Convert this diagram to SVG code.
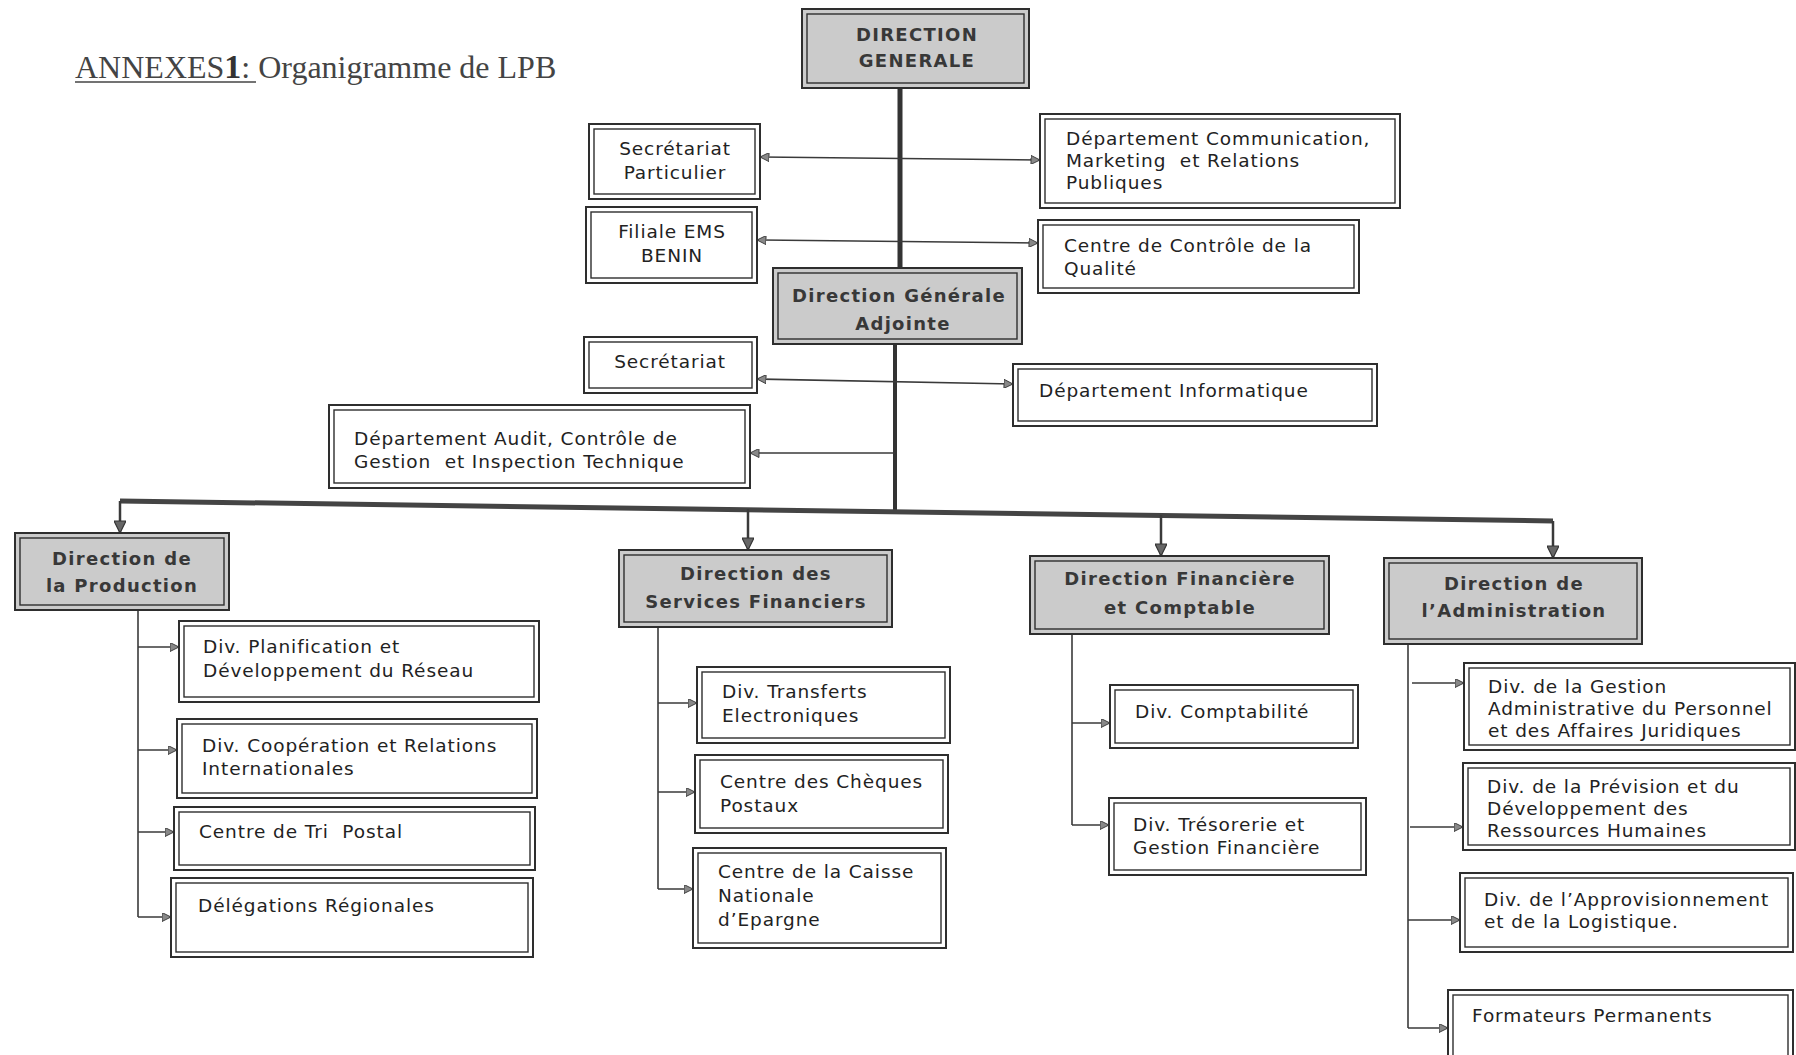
<svg xmlns="http://www.w3.org/2000/svg" width="1796" height="1055" viewBox="0 0 1796 1055">
<style>
.bg{fill:#ffffff}
.o{fill:#ffffff;stroke:#2e2e2e;stroke-width:2}
.i{fill:none;stroke:#2e2e2e;stroke-width:1.4}
.s{fill:#cbcbcb;stroke:#2e2e2e;stroke-width:2}
.t{font-family:"DejaVu Sans","Noto Sans",sans-serif;font-size:18.5px;fill:#222;letter-spacing:0.9px}
.c{text-anchor:middle}
.h{font-family:"DejaVu Sans","Noto Sans",sans-serif;font-weight:bold;font-size:18px;fill:#383838;letter-spacing:1.3px;text-anchor:middle}
.ln{fill:none;stroke:#3a3a3a;stroke-width:1.6}
.thick{fill:none;stroke:#333;stroke-width:5}
.bus{fill:none;stroke:#444;stroke-width:5}
.drop{fill:none;stroke:#3a3a3a;stroke-width:2.5}
</style>
<defs>
<marker id="ah" viewBox="0 0 10 10" refX="10" refY="5" markerWidth="10" markerHeight="9" markerUnits="userSpaceOnUse" orient="auto-start-reverse">
<path d="M0,0 L10,5 L0,10 z" fill="#888" stroke="#333" stroke-width="1"/>
</marker>
<marker id="ahd" viewBox="0 0 10 10" refX="10" refY="5" markerWidth="14" markerHeight="12" markerUnits="userSpaceOnUse" orient="auto">
<path d="M0,0 L10,5 L0,10 z" fill="#666" stroke="#333" stroke-width="1"/>
</marker>
</defs>
<rect class="bg" x="0" y="0" width="1796" height="1055"/>

<g id="title">
<text x="75" y="78" font-family="Liberation Serif,serif" font-size="32" fill="#444">ANNEXES<tspan font-weight="bold" font-size="34" fill="#333">1</tspan>: Organigramme de LPB</text>
<line x1="75" y1="82" x2="256" y2="82" stroke="#444" stroke-width="1.5"/>
</g>

<g id="connectors">
<path class="thick" d="M900,88 L900,268"/>
<path class="ln" d="M760,157 L1040,160" marker-start="url(#ah)" marker-end="url(#ah)"/>
<path class="ln" d="M757,240 L1038,243" marker-start="url(#ah)" marker-end="url(#ah)"/>
<path class="thick" d="M895,344 L895,512" style="stroke-width:4"/>
<path class="ln" d="M757,379 L1013,384" marker-start="url(#ah)" marker-end="url(#ah)"/>
<path class="ln" d="M895,453 L750,453" marker-end="url(#ah)"/>
<path class="bus" d="M120,501 L1553,521"/>
<path class="drop" d="M120,501 L120,533" marker-end="url(#ahd)"/>
<path class="drop" d="M748,509 L748,550" marker-end="url(#ahd)"/>
<path class="drop" d="M1161,515 L1161,556" marker-end="url(#ahd)"/>
<path class="drop" d="M1553,521 L1553,558" marker-end="url(#ahd)"/>
<path class="ln" d="M138,610 L138,917"/>
<path class="ln" d="M138,647 L179,647" marker-end="url(#ah)"/>
<path class="ln" d="M138,750 L177,750" marker-end="url(#ah)"/>
<path class="ln" d="M138,832 L174,832" marker-end="url(#ah)"/>
<path class="ln" d="M138,917 L171,917" marker-end="url(#ah)"/>
<path class="ln" d="M658,627 L658,889"/>
<path class="ln" d="M658,703 L697,703" marker-end="url(#ah)"/>
<path class="ln" d="M658,792 L695,792" marker-end="url(#ah)"/>
<path class="ln" d="M658,889 L693,889" marker-end="url(#ah)"/>
<path class="ln" d="M1072,634 L1072,825"/>
<path class="ln" d="M1072,723 L1110,723" marker-end="url(#ah)"/>
<path class="ln" d="M1072,825 L1109,825" marker-end="url(#ah)"/>
<path class="ln" d="M1408,644 L1408,1028"/>
<path class="ln" d="M1412,683 L1464,683" marker-end="url(#ah)"/>
<path class="ln" d="M1410,827 L1463,827" marker-end="url(#ah)"/>
<path class="ln" d="M1408,920 L1460,920" marker-end="url(#ah)"/>
<path class="ln" d="M1408,1028 L1448,1028" marker-end="url(#ah)"/>
</g>

<g id="dg">
<rect class="s" x="802" y="9" width="227" height="79"/>
<rect class="i" x="807" y="14" width="217" height="69"/>
<text class="h" x="917" y="41">DIRECTION</text>
<text class="h" x="917" y="67">GENERALE</text>
</g>
<g id="sec-particulier">
<rect class="o" x="589" y="124" width="171" height="75"/>
<rect class="i" x="594" y="129" width="161" height="65"/>
<text class="t c" x="675" y="155">Secrétariat</text>
<text class="t c" x="675" y="179">Particulier</text>
</g>
<g id="filiale-ems">
<rect class="o" x="586" y="207" width="171" height="76"/>
<rect class="i" x="591" y="212" width="161" height="66"/>
<text class="t c" x="672" y="238">Filiale EMS</text>
<text class="t c" x="672" y="262">BENIN</text>
</g>
<g id="dept-communication">
<rect class="o" x="1040" y="114" width="360" height="94"/>
<rect class="i" x="1045" y="119" width="350" height="84"/>
<text class="t" x="1066" y="145">Département Communication,</text>
<text class="t" x="1066" y="167" xml:space="preserve">Marketing  et Relations</text>
<text class="t" x="1066" y="189">Publiques</text>
</g>
<g id="centre-controle-qualite">
<rect class="o" x="1038" y="220" width="321" height="73"/>
<rect class="i" x="1043" y="225" width="311" height="63"/>
<text class="t" x="1064" y="252">Centre de Contrôle de la</text>
<text class="t" x="1064" y="275">Qualité</text>
</g>
<g id="dga">
<rect class="s" x="773" y="268" width="249" height="76"/>
<rect class="i" x="778" y="273" width="239" height="66"/>
<text class="h" x="899" y="302">Direction Générale</text>
<text class="h" x="903" y="330">Adjointe</text>
</g>
<g id="secretariat">
<rect class="o" x="584" y="337" width="173" height="56"/>
<rect class="i" x="589" y="342" width="163" height="46"/>
<text class="t c" x="670" y="368">Secrétariat</text>
</g>
<g id="dept-informatique">
<rect class="o" x="1013" y="364" width="364" height="62"/>
<rect class="i" x="1018" y="369" width="354" height="52"/>
<text class="t" x="1039" y="397">Département Informatique</text>
</g>
<g id="dept-audit">
<rect class="o" x="329" y="405" width="421" height="83"/>
<rect class="i" x="334" y="410" width="411" height="73"/>
<text class="t" x="354" y="445">Département Audit, Contrôle de</text>
<text class="t" x="354" y="468" xml:space="preserve">Gestion  et Inspection Technique</text>
</g>

<g id="dir-production">
<rect class="s" x="15" y="533" width="214" height="77"/>
<rect class="i" x="20" y="538" width="204" height="67"/>
<text class="h" x="122" y="565">Direction de</text>
<text class="h" x="122" y="592">la Production</text>
</g>
<g id="div-planification">
<rect class="o" x="179" y="621" width="360" height="81"/>
<rect class="i" x="184" y="626" width="350" height="71"/>
<text class="t" x="203" y="653">Div. Planification et</text>
<text class="t" x="203" y="677">Développement du Réseau</text>
</g>
<g id="div-cooperation">
<rect class="o" x="177" y="719" width="360" height="79"/>
<rect class="i" x="182" y="724" width="350" height="69"/>
<text class="t" x="202" y="752">Div. Coopération et Relations</text>
<text class="t" x="202" y="775">Internationales</text>
</g>
<g id="centre-tri">
<rect class="o" x="174" y="807" width="361" height="63"/>
<rect class="i" x="179" y="812" width="351" height="53"/>
<text class="t" x="199" y="838" xml:space="preserve">Centre de Tri  Postal</text>
</g>
<g id="delegations">
<rect class="o" x="171" y="878" width="362" height="79"/>
<rect class="i" x="176" y="883" width="352" height="69"/>
<text class="t" x="198" y="912">Délégations Régionales</text>
</g>

<g id="dir-services-financiers">
<rect class="s" x="619" y="550" width="273" height="77"/>
<rect class="i" x="624" y="555" width="263" height="67"/>
<text class="h" x="756" y="580">Direction des</text>
<text class="h" x="756" y="608">Services Financiers</text>
</g>
<g id="div-transferts">
<rect class="o" x="697" y="667" width="253" height="76"/>
<rect class="i" x="702" y="672" width="243" height="66"/>
<text class="t" x="722" y="698">Div. Transferts</text>
<text class="t" x="722" y="722">Electroniques</text>
</g>
<g id="centre-cheques">
<rect class="o" x="695" y="755" width="253" height="78"/>
<rect class="i" x="700" y="760" width="243" height="68"/>
<text class="t" x="720" y="788">Centre des Chèques</text>
<text class="t" x="720" y="812">Postaux</text>
</g>
<g id="centre-caisse">
<rect class="o" x="693" y="848" width="253" height="100"/>
<rect class="i" x="698" y="853" width="243" height="90"/>
<text class="t" x="718" y="878">Centre de la Caisse</text>
<text class="t" x="718" y="902">Nationale</text>
<text class="t" x="718" y="926">d’Epargne</text>
</g>

<g id="dir-financiere">
<rect class="s" x="1030" y="556" width="299" height="78"/>
<rect class="i" x="1035" y="561" width="289" height="68"/>
<text class="h" x="1180" y="585">Direction Financière</text>
<text class="h" x="1180" y="614">et Comptable</text>
</g>
<g id="div-comptabilite">
<rect class="o" x="1110" y="685" width="248" height="63"/>
<rect class="i" x="1115" y="690" width="238" height="53"/>
<text class="t" x="1135" y="718">Div. Comptabilité</text>
</g>
<g id="div-tresorerie">
<rect class="o" x="1109" y="798" width="257" height="77"/>
<rect class="i" x="1114" y="803" width="247" height="67"/>
<text class="t" x="1133" y="831">Div. Trésorerie et</text>
<text class="t" x="1133" y="854">Gestion Financière</text>
</g>

<g id="dir-administration">
<rect class="s" x="1384" y="558" width="258" height="86"/>
<rect class="i" x="1389" y="563" width="248" height="76"/>
<text class="h" x="1514" y="590">Direction de</text>
<text class="h" x="1514" y="617">l’Administration</text>
</g>
<g id="div-gestion-admin">
<rect class="o" x="1464" y="663" width="331" height="87"/>
<rect class="i" x="1469" y="668" width="321" height="77"/>
<text class="t" x="1488" y="693">Div. de la Gestion</text>
<text class="t" x="1488" y="715">Administrative du Personnel</text>
<text class="t" x="1488" y="737">et des Affaires Juridiques</text>
</g>
<g id="div-prevision">
<rect class="o" x="1463" y="763" width="332" height="87"/>
<rect class="i" x="1468" y="768" width="322" height="77"/>
<text class="t" x="1487" y="793">Div. de la Prévision et du</text>
<text class="t" x="1487" y="815">Développement des</text>
<text class="t" x="1487" y="837">Ressources Humaines</text>
</g>
<g id="div-approvisionnement">
<rect class="o" x="1460" y="873" width="333" height="79"/>
<rect class="i" x="1465" y="878" width="323" height="69"/>
<text class="t" x="1484" y="906">Div. de l’Approvisionnement</text>
<text class="t" x="1484" y="928">et de la Logistique.</text>
</g>
<g id="formateurs">
<rect class="o" x="1448" y="990" width="345" height="80"/>
<rect class="i" x="1453" y="995" width="335" height="70"/>
<text class="t" x="1472" y="1022">Formateurs Permanents</text>
</g>
</svg>
